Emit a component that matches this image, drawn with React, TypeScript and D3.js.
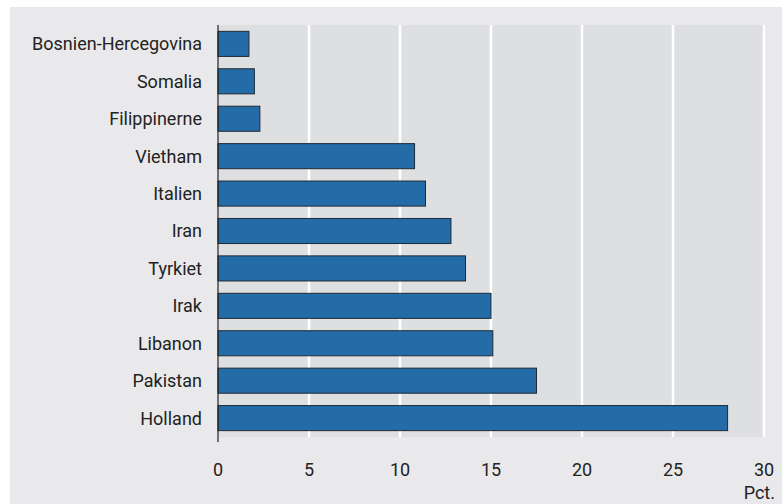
import React, { useEffect, useRef } from 'react';
import * as d3 from 'd3';

const countries = [
  'Bosnien-Hercegovina',
  'Somalia',
  'Filippinerne',
  'Vietham',
  'Italien',
  'Iran',
  'Tyrkiet',
  'Irak',
  'Libanon',
  'Pakistan',
  'Holland',
];
const shares = [1.7, 2.0, 2.3, 10.8, 11.4, 12.8, 13.6, 15.0, 15.1, 17.5, 28.0];
const xTicks = [0, 5, 10, 15, 20, 25, 30];
const unitLabel = 'Pct.';

const FONT = 'Roboto, "DejaVu Sans Condensed", sans-serif';

const App = () => {
  const ref = useRef<SVGSVGElement | null>(null);

  useEffect(() => {
    const svg = d3.select(ref.current);
    svg.selectAll('*').remove();

    const W = 782;
    const H = 504;
    const margin = { top: 25, right: 18, bottom: 67, left: 218 };
    const plotRight = W - margin.right;
    const plotBottom = H - margin.bottom;

    // outer panel
    svg.append('rect')
      .attr('x', 10).attr('y', 7)
      .attr('width', W - 10).attr('height', H - 7)
      .attr('fill', '#e9e9eb');

    const x = d3.scaleLinear()
      .domain([0, 30])
      .range([margin.left, plotRight]);

    const y = d3.scaleBand()
      .domain(countries)
      .range([margin.top, plotBottom])
      .paddingInner(0.33)
      .paddingOuter(0.17);

    // plot area
    svg.append('rect')
      .attr('x', margin.left).attr('y', margin.top)
      .attr('width', plotRight - margin.left).attr('height', plotBottom - margin.top)
      .attr('fill', '#dedfe1');

    // gridlines
    svg.append('g')
      .selectAll('line')
      .data(xTicks.filter(t => t > 0))
      .enter().append('line')
      .attr('x1', d => x(d)).attr('x2', d => x(d))
      .attr('y1', margin.top).attr('y2', plotBottom)
      .attr('stroke', '#ffffff')
      .attr('stroke-width', 2.5);

    // bars
    svg.append('g')
      .selectAll('rect')
      .data(countries.map((c, i) => ({ c, v: shares[i] })))
      .enter().append('rect')
      .attr('x', x(0))
      .attr('y', d => y(d.c)!)
      .attr('width', d => x(d.v) - x(0))
      .attr('height', y.bandwidth())
      .attr('fill', '#236ca8')
      .attr('stroke', '#1f2a36')
      .attr('stroke-width', 1);

    // y axis line
    svg.append('line')
      .attr('x1', x(0)).attr('x2', x(0))
      .attr('y1', margin.top).attr('y2', plotBottom + 5)
      .attr('stroke', '#222')
      .attr('stroke-width', 1.2);

    // category labels
    svg.append('g')
      .selectAll('text')
      .data(countries)
      .enter().append('text')
      .attr('x', margin.left - 16)
      .attr('y', d => y(d)! + y.bandwidth() / 2)
      .attr('dy', '0.36em')
      .attr('text-anchor', 'end')
      .attr('font-family', FONT)
      .attr('font-size', 18)
      .attr('fill', '#222')
      .text(d => d);

    // tick labels
    svg.append('g')
      .selectAll('text')
      .data(xTicks)
      .enter().append('text')
      .attr('x', d => x(d))
      .attr('y', 470)
      .attr('dy', '0.36em')
      .attr('text-anchor', 'middle')
      .attr('font-family', FONT)
      .attr('font-size', 18)
      .attr('fill', '#222')
      .text(d => d);

    svg.append('text')
      .attr('x', 775)
      .attr('y', 493)
      .attr('dy', '0.36em')
      .attr('text-anchor', 'end')
      .attr('font-family', FONT)
      .attr('font-size', 18)
      .attr('fill', '#222')
      .text(unitLabel);
  }, []);

  return (
    <svg
      ref={ref}
      width={782}
      height={504}
      style={{ position: 'absolute', left: 0, top: 0, background: '#fff' }}
    />
  );
};

export default App;
